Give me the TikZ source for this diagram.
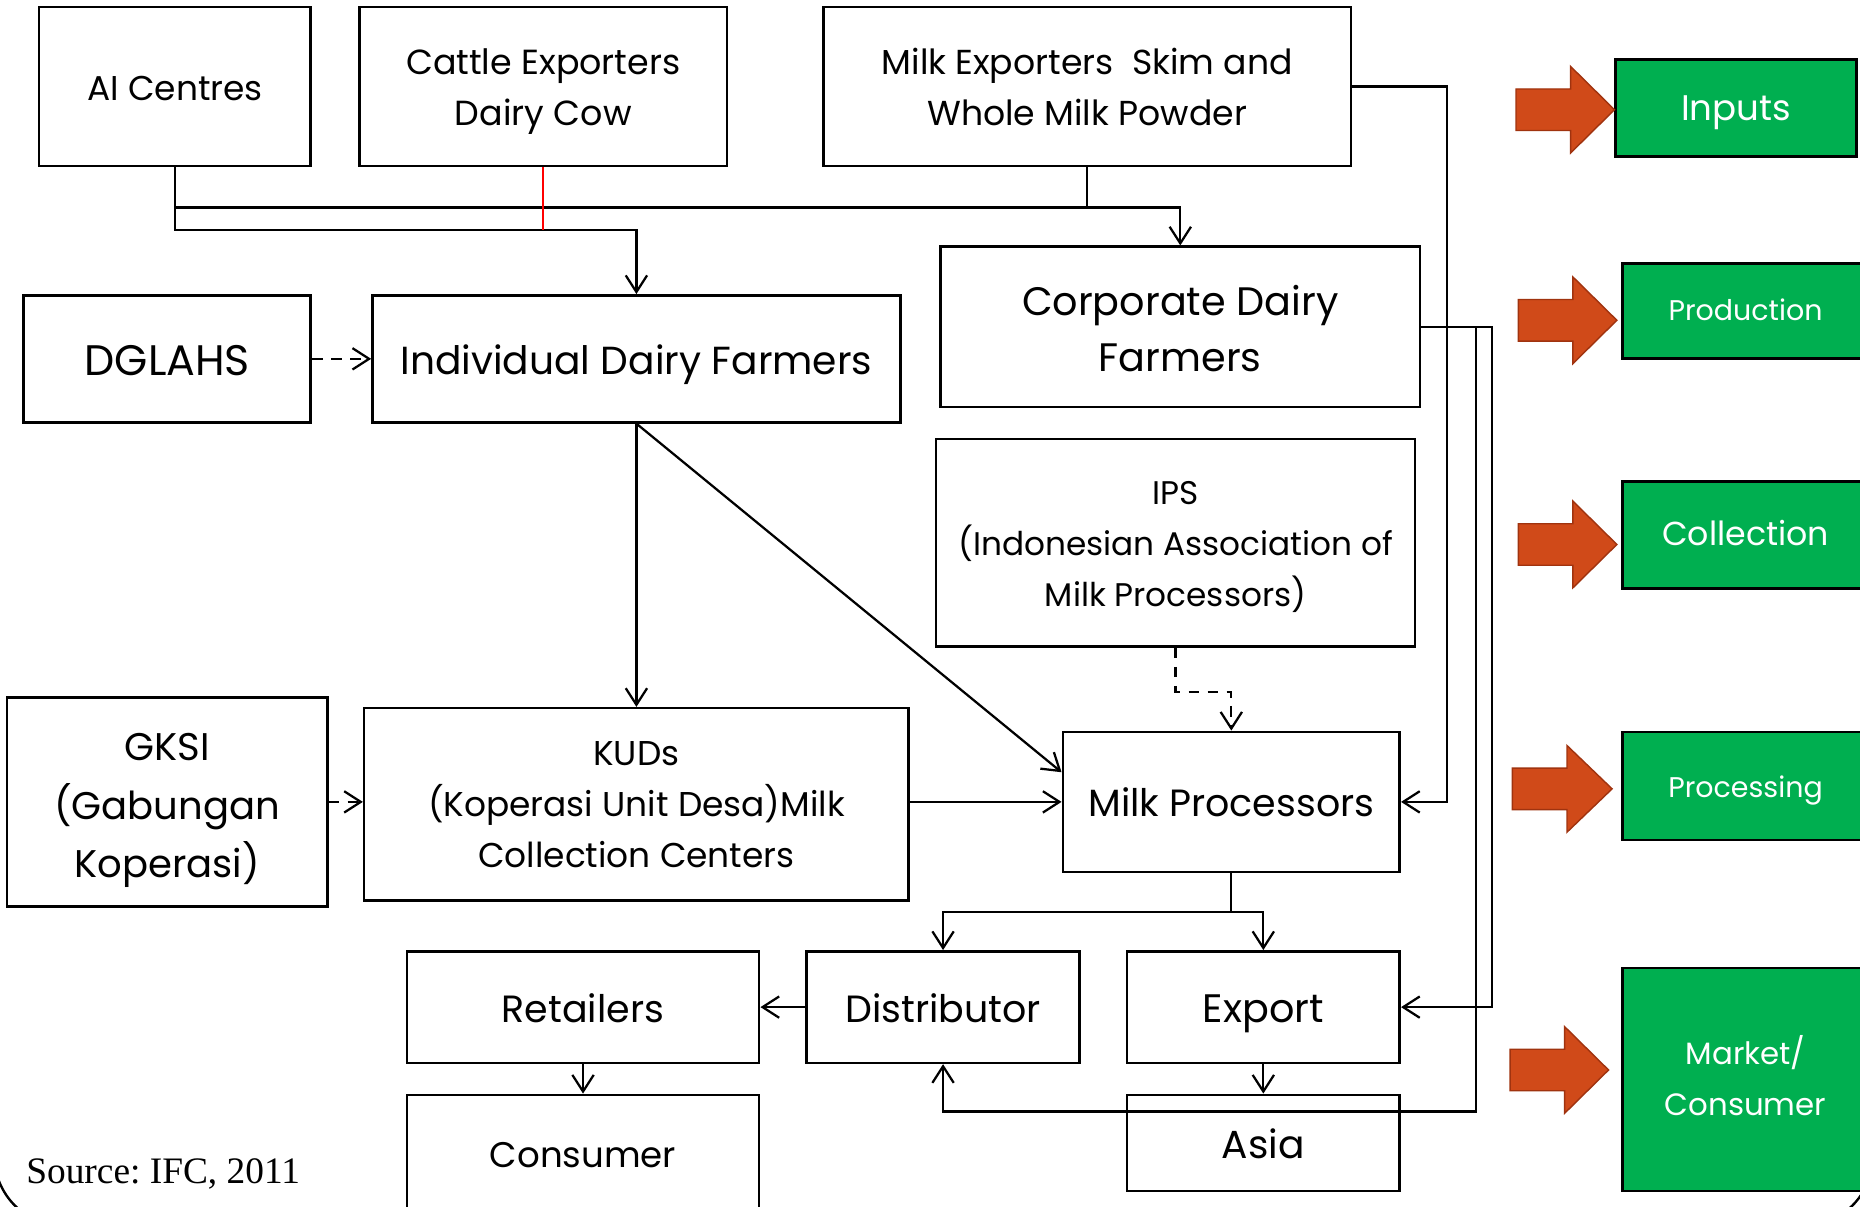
\documentclass[tikz,border=0pt]{standalone}
\usepackage{fontspec}
\setmainfont{Poppins}
\newfontfamily\srcfont{Liberation Serif}
\usetikzlibrary{arrows.meta,calc}
\definecolor{stagegreen}{HTML}{00AF50}
\definecolor{arrowfill}{HTML}{D04A19}
\definecolor{arrowedge}{HTML}{A0330F}
\newcommand\fsz[2]{\fontsize{#1}{#2}\selectfont}
\frenchspacing
\tikzset{
  box/.style={draw, line width=2.2pt, rectangle, inner sep=0pt, align=center},
  td/.style 2 args={text height=#1pt, text depth=#2pt},
  stage/.style={draw, line width=2.2pt, fill=stagegreen, text=white, inner sep=0pt, align=center},
  conn/.style={line width=1.9pt, -{Straight Barb[length=14pt,width=18pt,line width=1.9pt]}},
  plain/.style={line width=1.9pt},
  dconn/.style={conn, dash pattern=on 9pt off 7pt},
  barrow/.style={fill=arrowfill, draw=arrowedge, line width=1.2pt, line join=miter},
}
\newcommand\blockarrow[4]{%
  \filldraw[barrow] (#1,#4-17.5) -- (#2,#4-17.5) -- (#2,#4-36.5) -- (#3,#4)
    -- (#2,#4+36.5) -- (#2,#4+17.5) -- (#1,#4+17.5) -- cycle;}
\begin{document}
\begin{tikzpicture}[x=1pt,y=-1pt]
\useasboundingbox (0,0) rectangle (1568,1017);
\clip (0,0) rectangle (1568,1017);
\fill[white] (0,0) rectangle (1568,1017);
\draw[line width=2pt, rounded corners=60pt] (-4.9,-100) rectangle (1579,1034);

% boxes
\node[box,font=\fsz{29}{43},td={28.9}{5.8},minimum width=229pt,minimum height=134pt] (ai) at (147.5,73) {AI Centres};
\node[box,font=\fsz{29.4}{43},td={72.3}{5.9},minimum width=310pt,minimum height=134pt] (cattle) at (458,73) {Cattle Exporters\\Dairy Cow};
\node[box,font=\fsz{29.2}{43},td={72.1}{5.8},minimum width=445pt,minimum height=134pt] (milkexp) at (916.5,73) {Milk Exporters~ Skim and\\Whole Milk Powder};
\node[box,font=\fsz{36}{47},td={35}{7.2},minimum width=242pt,minimum height=107pt] (dglahs) at (141,302.5) {DGLAHS};
\node[box,font=\fsz{33}{47},td={32.4}{6.6},minimum width=445pt,minimum height=107pt] (indiv) at (536.5,302.5) {Individual Dairy Farmers};
\node[box,font=\fsz{33.5}{47},td={81.8}{6.7},minimum width=404pt,minimum height=135pt] (corp) at (995,275.5) {Corporate Dairy\\Farmers};
\node[box,font=\fsz{27.6}{43},td={112.7}{5.5},minimum width=404pt,minimum height=175pt] (ips) at (991,457.5) {IPS\\(Indonesian Association of\\Milk Processors)};
\node[box,font=\fsz{32.5}{49},td={133.5}{6.5},minimum width=270pt,minimum height=176pt] (gksi) at (141,676) {GKSI\\(Gabungan\\Koperasi)};
\node[box,font=\fsz{29}{43},td={111.9}{5.8},minimum width=459pt,minimum height=162pt] (kud) at (536.5,678) {KUDs\\(Koperasi Unit Desa)Milk\\Collection Centers};
\node[box,font=\fsz{32}{47},td={31.5}{6.4},minimum width=284pt,minimum height=118pt] (mp) at (1038,676) {Milk Processors};
\node[box,font=\fsz{32}{47},td={31.5}{6.4},minimum width=297pt,minimum height=94pt] (retail) at (491.5,849) {Retailers};
\node[box,font=\fsz{32}{47},td={31.5}{6.4},minimum width=230pt,minimum height=94pt] (distr) at (795,849) {Distributor};
\node[box,font=\fsz{33.5}{47},td={32.8}{6.7},minimum width=230pt,minimum height=94pt] (export) at (1065,849) {Export};
\node[box,font=\fsz{30}{47},td={27.8}{6},minimum width=297pt,minimum height=100pt] (consumer) at (491.5,973) {Consumer};
\node[box,font=\fsz{33}{47},td={33.4}{6.6},minimum width=230pt,minimum height=81pt] (asia) at (1065,963.5) {Asia};

% stages
\node[stage,font=\fsz{30}{43},td={27.8}{6},minimum width=203pt,minimum height=82pt] (inputs) at (1463.5,91) {Inputs};
\node[stage,font=\fsz{24}{43},td={20.6}{4.8},minimum width=207pt,minimum height=80pt] (production) at (1471.5,262) {Production};
\node[stage,font=\fsz{28}{43},td={24.1}{5.6},minimum width=207pt,minimum height=90pt] (collection) at (1471.5,451) {Collection};
\node[stage,font=\fsz{24}{43},td={23.6}{4.8},minimum width=207pt,minimum height=91pt] (processing) at (1471.5,662.5) {Processing};
\node[stage,font=\fsz{26}{43},td={66.4}{5.2},minimum width=207pt,minimum height=188pt] (market) at (1471.5,910) {Market/\\Consumer};

\blockarrow{1278}{1324}{1361}{92.5}
\blockarrow{1280}{1326}{1363}{270}
\blockarrow{1280}{1326}{1363}{459}
\blockarrow{1275}{1321}{1359}{665}
\blockarrow{1273}{1319}{1356}{902}

% bus coordinates
\coordinate (busA) at (1220,0);
\coordinate (busB) at (1244,0);
\coordinate (busC) at (1258,0);
\coordinate (lowrun) at (0,194);
\coordinate (highrun) at (0,175);
\coordinate (bottomrun) at (0,937);

% connectors
\draw[conn] (ai.south) -- (ai.south |- lowrun) -| (indiv.north);
\draw[conn] (ai.south |- highrun) -| (corp.north);
\draw[plain] (milkexp.south) -- (milkexp.south |- highrun);
\draw[red, line width=1.5pt] (cattle.south) -- (cattle.south |- lowrun);
\draw[dconn] (dglahs.east) -- (indiv.west);
\draw[dconn] (gksi.east) -- (kud.west |- gksi.east);
\draw[conn] (indiv.south) -- (kud.north);
\draw[conn] (indiv.south) -- ($(mp.west)+(0,-25)$);
\draw[conn] (kud.east |- mp.west) -- (mp.west);
\draw[dconn] (ips.south) -- ++(0,37) -| (mp.north);
\draw[conn] (milkexp.east) -| (busA |- mp.east) -- (mp.east);
\draw[conn] (corp.east) -| (busC |- export.east) -- (export.east);
\draw[conn] (busB |- corp.east) -- (busB |- bottomrun) -| (distr.south);
\draw[conn] (mp.south) -- ++(0,33) -| (distr.north);
\draw[conn] (mp.south) -- ++(0,33) -| (export.north);
\draw[conn] (distr.west) -- (retail.east);
\draw[conn] (retail.south) -- (consumer.north);
\draw[conn] (export.south) -- (asia.north);

\node[font=\srcfont\fsz{31.5}{36}, inner sep=0pt, anchor=base west] (source) at (22,998) {Source: IFC, 2011};
\end{tikzpicture}
\end{document}
